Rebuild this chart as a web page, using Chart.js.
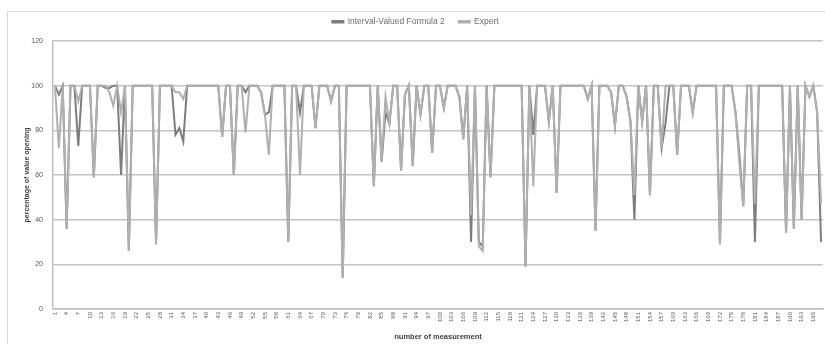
<!DOCTYPE html>
<html>
<head>
<meta charset="utf-8">
<script src="https://cdn.jsdelivr.net/npm/chart.js@4.4.1/dist/chart.umd.min.js"></script>
<style>
  html, body { margin: 0; padding: 0; background: #ffffff; }
  #wrap { width: 825px; height: 344px; }
</style>
</head>
<body>
<div id="wrap"><canvas id="c" width="825" height="344"></canvas></div>
<script>
// ---- data ----
const seriesNames = ['Interval-Valued Formula 2', 'Expert'];
const categories = Array.from({ length: 198 }, (_, i) => String(i + 1));
const tickLabels = [1,4,7,10,13,16,19,22,25,28,31,34,37,40,43,46,49,52,55,58,61,64,67,70,73,76,79,82,85,88,91,94,97,100,103,106,109,112,115,118,121,124,127,130,133,136,139,142,145,148,151,154,157,160,163,166,169,172,175,178,181,184,187,190,193,196];
const yTicks = [0, 20, 40, 60, 80, 100, 120];

// Interval-Valued Formula 2 (dark grey), measurements 1..198
const intervalValued = [
  100, 96,100, 36,100,100, 73,100,100,100,   // 1-10
   59,100,100, 99, 99,100,100, 60,100, 26,   // 11-20
  100,100,100,100,100,100, 29,100,100,100,   // 21-30
  100, 78, 81, 75,100,100,100,100,100,100,   // 31-40
  100,100,100, 77,100,100, 60,100,100, 97,   // 41-50
  100,100,100, 97, 87, 88,100,100,100,100,   // 51-60
   30,100,100, 88,100,100,100, 81,100,100,   // 61-70
  100, 93,100,100, 14,100,100,100,100,100,   // 71-80
  100,100, 55,100, 66, 88, 83,100,100, 62,   // 81-90
   96,100, 64,100, 87,100,100, 70,100,100,   // 91-100
   90,100,100,100, 95, 76,100, 30,100, 30,   // 101-110
   28,100, 59,100,100,100,100,100,100,100,   // 111-120
  100, 19,100, 78,100,100,100, 84,100, 52,   // 121-130
  100,100,100,100,100,100,100, 94,100, 35,   // 131-140
  100,100,100, 97, 82,100,100, 95, 84, 40,   // 141-150
  100, 84,100, 51,100,100, 72, 83,100,100,   // 151-160
   69,100,100,100, 88,100,100,100,100,100,   // 161-170
  100, 29,100,100,100, 88, 69, 46,100,100,   // 171-180
   30,100,100,100,100,100,100,100, 34,100,   // 181-190
   36,100, 40,100, 95,100, 88, 30            // 191-198
];

// Expert (light grey), measurements 1..198
const expert = [
  100, 72,100, 36,100,100, 93,100,100,100,   // 1-10
   59,100,100,100, 97, 91,100, 88,100, 26,   // 11-20
  100,100,100,100,100,100, 29,100,100,100,   // 21-30
  100, 97, 97, 94,100,100,100,100,100,100,   // 31-40
  100,100,100, 77,100,100, 60,100,100, 79,   // 41-50
  100,100,100, 97, 87, 69,100,100,100,100,   // 51-60
   30,100,100, 60,100,100,100, 81,100,100,   // 61-70
  100, 93,100,100, 14,100,100,100,100,100,   // 71-80
  100,100, 55,100, 66, 95, 83,100,100, 62,   // 81-90
   96,100, 64,100, 87,100,100, 70,100,100,   // 91-100
   90,100,100,100, 95, 76,100, 42,100, 28,   // 101-110
   26,100, 59,100,100,100,100,100,100,100,   // 111-120
  100, 19,100, 55,100,100,100, 84,100, 52,   // 121-130
  100,100,100,100,100,100,100, 94,100, 35,   // 131-140
  100,100,100, 97, 82,100,100, 95, 84, 51,   // 141-150
  100, 84,100, 51,100,100, 72,100,100,100,   // 151-160
   69,100,100,100, 88,100,100,100,100,100,   // 161-170
  100, 29,100,100,100, 88, 65, 46,100,100,   // 171-180
   47,100,100,100,100,100,100,100, 34,100,   // 181-190
   36,100, 40,100, 95,100, 88, 47            // 191-198
];

// ---- styling ----
const FONT = '"Liberation Sans", Arial, sans-serif';
const DARK = '#7d7d7d';
const LIGHT = '#b0b0b0';

const framePlugin = {
  id: 'frame',
  afterLayout(chart) {
    // lift the legend a little closer to the chart frame's top edge
    if (chart.legend) {
      chart.legend.top -= 5;
      chart.legend.bottom -= 5;
    }
  },
  beforeDraw(chart) {
    const ctx = chart.ctx;
    ctx.save();
    ctx.fillStyle = '#ffffff';
    ctx.fillRect(0, 0, chart.width, chart.height);
    ctx.strokeStyle = '#d9d9d9';
    ctx.lineWidth = 1;
    ctx.strokeRect(7.5, 11.5, chart.width + 10, chart.height + 10);
    ctx.restore();
  }
};

new Chart(document.getElementById('c'), {
  type: 'line',
  data: {
    labels: categories,
    datasets: [
      {
        label: seriesNames[0],
        data: intervalValued,
        borderColor: DARK,
        backgroundColor: DARK,
        borderWidth: 2,
        pointRadius: 0,
        tension: 0,
        order: 1
      },
      {
        label: seriesNames[1],
        data: expert,
        borderColor: LIGHT,
        backgroundColor: LIGHT,
        borderWidth: 2,
        pointRadius: 0,
        tension: 0,
        order: 0
      }
    ]
  },
  options: {
    responsive: false,
    animation: false,
    devicePixelRatio: 1,
    layout: { padding: { left: 8, right: 2, top: 0, bottom: 0 } },
    plugins: {
      legend: {
        position: 'top',
        labels: {
          boxWidth: 11,
          boxHeight: 1.5,
          padding: 14,
          color: '#6f6f6f',
          font: { size: 8.5, family: FONT },
          sort: (a, b) => a.datasetIndex - b.datasetIndex
        }
      },
      tooltip: { enabled: false }
    },
    scales: {
      x: {
        type: 'category',
        offset: true,
        grid: { display: false, drawTicks: false },
        border: { color: '#bfbfbf', width: 1.5 },
        ticks: {
          autoSkip: false,
          minRotation: 90,
          maxRotation: 90,
          padding: 3,
          color: '#595959',
          font: { size: 6, family: FONT },
          callback: function (value, index) {
            const lab = categories[index];
            return tickLabels.includes(Number(lab)) ? lab : '';
          }
        },
        title: {
          display: true,
          text: 'number of measurement',
          color: '#404040',
          font: { size: 7.5, family: FONT, weight: 'bold' },
          padding: { top: 0, bottom: 3 }
        },
        afterFit(scale) {
          scale.height = 35;
          scale.paddingLeft = 0;
          scale.paddingRight = 0;
        }
      },
      y: {
        min: 0,
        max: 120,
        afterBuildTicks(scale) { scale.ticks = yTicks.map(v => ({ value: v })); },
        grid: { color: '#c4c4c4', lineWidth: 1.5, drawTicks: false },
        border: { color: '#bfbfbf', width: 1.5 },
        ticks: {
          padding: 10,
          color: '#595959',
          font: { size: 7, family: FONT }
        },
        title: {
          display: true,
          text: 'percentage of value opening',
          color: '#404040',
          font: { size: 7, family: FONT, weight: 'bold' },
          padding: { top: 15, bottom: 0 }
        },
        afterFit(scale) {
          scale.width = 45;
          scale.paddingTop = 41;
          scale.paddingBottom = 0;
        }
      }
    }
  },
  plugins: [framePlugin]
});
</script>
</body>
</html>
